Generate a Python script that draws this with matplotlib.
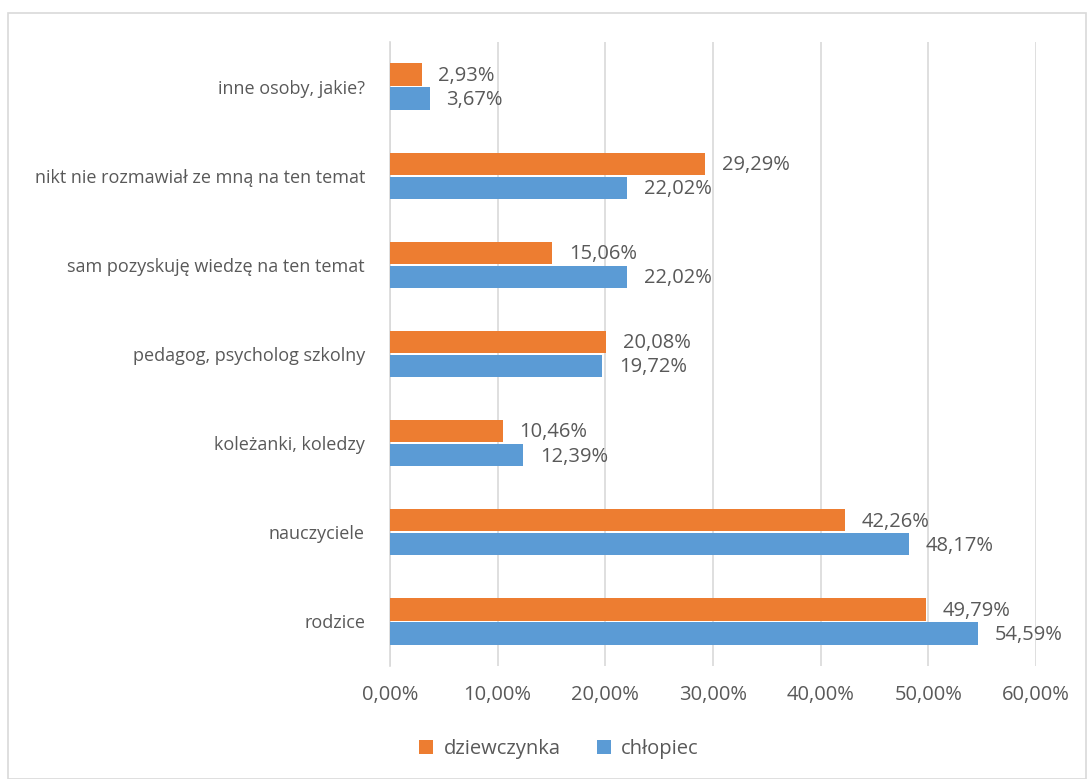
import numpy as np
import matplotlib.pyplot as plt
from matplotlib.patches import Rectangle

categories = ['rodzice', 'nauczyciele', 'koleżanki, koledzy', 'pedagog, psycholog szkolny',
              'sam pozyskuję wiedzę na ten temat', 'nikt nie rozmawiał ze mną na ten temat',
              'inne osoby, jakie?']
dziewczynka = [49.79, 42.26, 10.46, 20.08, 15.06, 29.29, 2.93]
chlopiec = [54.59, 48.17, 12.39, 19.72, 22.02, 22.02, 3.67]
xticks = [0, 10, 20, 30, 40, 50, 60]

ORANGE = '#ED7D31'
BLUE = '#5B9BD5'
TXT = '#595959'

plt.rcParams['font.family'] = ['Open Sans', 'DejaVu Sans']

fig = plt.figure(figsize=(10.89, 7.79), dpi=100)
ax = fig.add_axes([390 / 1089, 1 - 666 / 779, 646 / 1089, 624 / 779])

# chart border
fig.patches.append(Rectangle((8 / 1089, 0), 1 - 8 / 1089 - 3 / 1089, 1 - 13 / 779,
                             transform=fig.transFigure, fill=False,
                             edgecolor='#d9d9d9', linewidth=1.2))

y = np.arange(len(categories))
h = 0.25
bd = ax.barh(y + h / 2 + 0.01, dziewczynka, height=h, color=ORANGE, label='dziewczynka', zorder=3)
bc = ax.barh(y - h / 2 - 0.01, chlopiec, height=h, color=BLUE, label='chłopiec', zorder=3)

def fmt(v):
    return f'{v:.2f}%'.replace('.', ',')

for bars, vals in [(bd, dziewczynka), (bc, chlopiec)]:
    for b, v in zip(bars, vals):
        ax.annotate(fmt(v), (b.get_width(), b.get_y() + b.get_height() / 2),
                    xytext=(12, -1), textcoords='offset points', va='center', ha='left',
                    fontsize=14.5, color=TXT)

ax.set_xlim(0, 60)
ax.set_ylim(-0.5, len(categories) - 0.5)
ax.set_xticks(xticks)
ax.set_xticklabels([f'{t:.2f}%'.replace('.', ',') for t in xticks])
ax.set_yticks(y)
ax.set_yticklabels(categories)
ax.tick_params(axis='x', length=0, labelsize=14.5, colors=TXT, pad=14)
ax.tick_params(axis='y', length=0, labelsize=13, colors=TXT, pad=18)
ax.grid(axis='x', color='#d9d9d9', linewidth=1.2, zorder=0)
for s in ['top', 'right', 'bottom']:
    ax.spines[s].set_visible(False)
ax.spines['left'].set_color('#d9d9d9')
ax.spines['left'].set_linewidth(1.2)

fig.legend(handles=[bd, bc], loc='center', bbox_to_anchor=(559 / 1089, 1 - 749 / 779),
           ncol=2, frameon=False, fontsize=14.5, labelcolor=TXT,
           handlelength=0.7, handleheight=0.7, handletextpad=0.5, columnspacing=1.8)

fig.savefig('out.png', dpi=100)
